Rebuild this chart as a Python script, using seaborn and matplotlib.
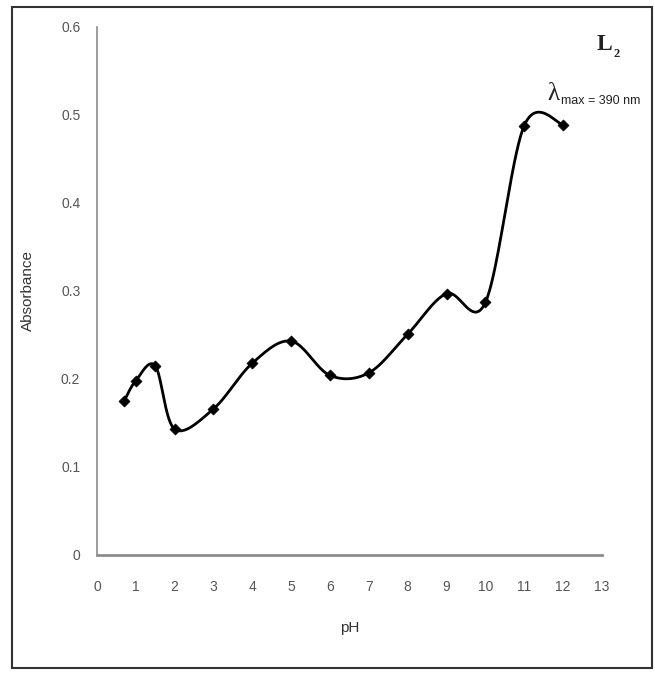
import numpy as np
import pandas as pd
import matplotlib
matplotlib.use("Agg")
import matplotlib.pyplot as plt
import seaborn as sns
from matplotlib.patches import Rectangle

# ---- data ----
ph = [0.7, 1.0, 1.5, 2.0, 3.0, 4.0, 5.0, 6.0, 7.0, 8.0, 9.0, 10.0, 11.0, 12.0]
absorbance = [0.175, 0.198, 0.215, 0.143, 0.166, 0.218, 0.243, 0.204, 0.207,
              0.251, 0.297, 0.287, 0.488, 0.489]
x_ticks = list(range(0, 14))
y_ticks = [0, 0.1, 0.2, 0.3, 0.4, 0.5, 0.6]
y_ticklabels = ["0", "0.1", "0.2", "0.3", "0.4", "0.5", "0.6"]


def smooth_curve(xs, ys, n=40):
    """Excel-like smoothed line (Catmull-Rom cubic Bezier) through the points."""
    P = np.column_stack([xs, ys]).astype(float)
    out = []
    for i in range(len(P) - 1):
        p0 = P[i - 1] if i > 0 else P[i]
        p1, p2 = P[i], P[i + 1]
        p3 = P[i + 2] if i + 2 < len(P) else P[i + 1]
        b1 = p1 + (p2 - p0) / 6.0
        b2 = p2 - (p3 - p1) / 6.0
        t = np.linspace(0, 1, n)[:, None]
        seg = ((1 - t) ** 3) * p1 + 3 * ((1 - t) ** 2) * t * b1 + 3 * (1 - t) * t ** 2 * b2 + t ** 3 * p2
        out.append(seg if i == 0 else seg[1:])
    return np.vstack(out)


sns.set_style("white")
plt.rcParams["font.family"] = ["Liberation Sans", "DejaVu Sans"]

fig = plt.figure(figsize=(6.55, 6.74), dpi=100)
ax = fig.add_axes([0.148, 0.1766, 0.771, 0.7834])

curve = smooth_curve(ph, absorbance)
curve_df = pd.DataFrame({"pH": curve[:, 0], "Absorbance": curve[:, 1]})
pts_df = pd.DataFrame({"pH": ph, "Absorbance": absorbance})

sns.lineplot(data=curve_df, x="pH", y="Absorbance", ax=ax, color="black",
             linewidth=2.0, sort=False, estimator=None)
sns.scatterplot(data=pts_df, x="pH", y="Absorbance", ax=ax, marker="D",
                color="black", s=32, edgecolor="black", zorder=5)

ax.set_xlim(0, 13)
ax.set_ylim(0, 0.6)
ax.set_xticks(x_ticks)
ax.set_xticklabels([str(t) for t in x_ticks])
ax.set_yticks(y_ticks)
ax.set_yticklabels(y_ticklabels)

for side in ["top", "right"]:
    ax.spines[side].set_visible(False)
ax.spines["left"].set_color("#8c8c8c")
ax.spines["bottom"].set_color("#8c8c8c")
ax.spines["left"].set_linewidth(1.2)
ax.spines["bottom"].set_linewidth(2.0)
ax.tick_params(axis="both", direction="out", length=4, width=1, color="#8c8c8c",
               labelcolor="#555555", labelsize=10, pad=8)
ax.tick_params(axis="x", pad=14)

ax.set_xlabel("pH", fontsize=11, color="#333333")
ax.set_ylabel("Absorbance", fontsize=11, color="#333333")
ax.xaxis.set_label_coords(0.5, -0.125)
ax.yaxis.set_label_coords(-0.123, 0.5)

ax.text(1.02, 0.956, "L", transform=ax.transAxes, fontsize=17,
        family="Liberation Serif", fontweight="bold", ha="right", va="baseline",
        color="#222222", clip_on=False)
ax.text(1.022, 0.944, "2", transform=ax.transAxes, fontsize=9,
        family="Liberation Serif", fontweight="bold", ha="left", va="baseline",
        color="#222222", clip_on=False)
ax.text(0.891, 0.862, "λ", transform=ax.transAxes, fontsize=18,
        family="Liberation Serif", ha="left", va="baseline", color="#222222")
ax.text(0.918, 0.854, "max = 390 nm", transform=ax.transAxes, fontsize=9,
        ha="left", va="baseline", color="#222222", clip_on=False)

fig.patches.append(Rectangle((12 / 655, 6 / 674), 640 / 655, 661 / 674,
                             transform=fig.transFigure, fill=False,
                             edgecolor="#333333", linewidth=1.5))

fig.savefig("out.png", dpi=100)
